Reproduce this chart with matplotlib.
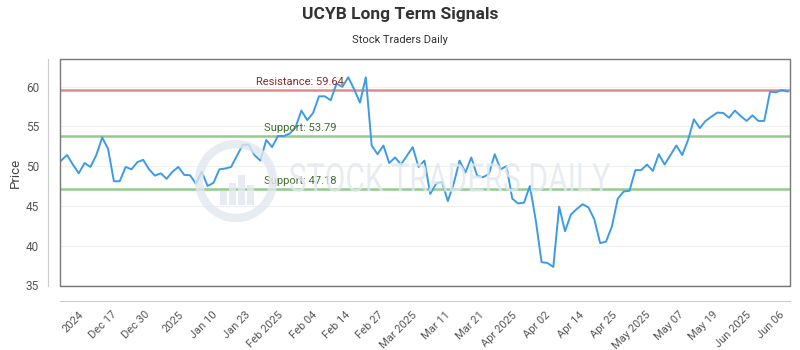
import matplotlib
matplotlib.use("Agg")
import matplotlib.pyplot as plt
import numpy as np
from matplotlib.patches import Ellipse, Rectangle, PathPatch
from matplotlib.textpath import TextPath
from matplotlib.font_manager import FontProperties
from matplotlib.transforms import Affine2D, IdentityTransform

plt.rcParams['font.family'] = ['Roboto', 'DejaVu Sans']

title = "UCYB Long Term Signals"
subtitle = "Stock Traders Daily"
y_label = "Price"
watermark = "STOCK TRADERS DAILY"

prices = [50.7, 51.4, 50.2, 49.1, 50.4, 49.9, 51.4, 53.6, 52.2, 48.1,
          48.1, 49.9, 49.6, 50.5, 50.8, 49.6, 48.8, 49.1, 48.4, 49.3,
          49.9, 48.9, 48.85, 47.8, 49.3, 47.5, 47.9, 49.6, 49.7, 49.9,
          51.3, 52.7, 52.7, 51.4, 50.7, 53.3, 52.4, 53.8, 53.8, 54.1,
          54.9, 57.0, 55.8, 56.7, 58.8, 58.8, 58.3, 60.4, 60.0, 61.2,
          59.7, 58.0, 61.2, 52.6, 51.5, 52.6, 50.4, 51.1, 50.2, 51.3,
          52.4, 49.9, 50.7, 46.5, 47.8, 48.0, 45.6, 47.8, 50.7, 49.2,
          51.1, 48.8, 48.6, 49.0, 51.5, 49.6, 50.0, 45.9, 45.3, 45.4,
          47.5, 43.2, 37.9, 37.8, 37.3, 44.9, 41.8, 43.9, 44.6, 45.2,
          44.8, 43.3, 40.3, 40.5, 42.4, 45.9, 46.8, 46.9, 49.5, 49.5,
          50.2, 49.4, 51.5, 50.2, 51.4, 52.6, 51.4, 53.3, 55.9, 54.8,
          55.7, 56.25, 56.75, 56.7, 56.1, 57.0, 56.3, 55.7, 56.4, 55.7,
          55.7, 59.4, 59.3, 59.6, 59.4]

tick_labels = ["2024", "Dec 17", "Dec 30", "2025", "Jan 10", "Jan 23",
               "Feb 2025", "Feb 04", "Feb 14", "Feb 27", "Mar 2025", "Mar 11",
               "Mar 21", "Apr 2025", "Apr 02", "Apr 14", "Apr 25", "May 2025",
               "May 07", "May 19", "Jun 2025", "Jun 06"]

resistance = 59.64
supports = [53.79, 47.18]
y_ticks = [35, 40, 45, 50, 55, 60]

W, H = 800, 350
fig = plt.figure(figsize=(8, 3.5), dpi=100)
L, R, T, B = 60, 790, 59, 286
ax = fig.add_axes([L / W, 1 - B / H, (R - L) / W, (B - T) / H])

x = np.arange(len(prices))
ax.set_xlim(-0.2, len(prices) - 0.6)
ax.set_ylim(34.9, 63.5)

# watermark (drawn in pixel space of the figure)
wm_color = '#e2e8ef'
cx, cy, r = 236, H - 181, 37
fig.patches.append(Ellipse((cx, cy), 2 * r, 2 * r, transform=IdentityTransform(),
                           fill=False, edgecolor=wm_color, linewidth=6, zorder=0.5, alpha=0.8))
for bx, bh in [(-16, 14), (-7, 22), (2, 30), (11, 20)]:
    fig.patches.append(Rectangle((cx + bx, cy - 24), 7, bh, transform=IdentityTransform(),
                                 facecolor=wm_color, edgecolor='none', zorder=0.5, alpha=0.8))
tp = TextPath((0, 0), watermark, size=40, prop=FontProperties(family='Roboto'))
ext = tp.get_extents()
sx = 320 / ext.width
sy = 29 / ext.height
tr = Affine2D().translate(-ext.x0, -ext.y0).scale(sx, sy).translate(290, H - 192)
fig.patches.append(PathPatch(tp, transform=tr + IdentityTransform(), facecolor=wm_color,
                             edgecolor='none', zorder=0.5, alpha=0.8))
ax.patch.set_alpha(0)

for yv in y_ticks:
    ax.axhline(yv, color='#f0f0f0', linewidth=0.8, zorder=1)

ax.axhline(resistance, color='#e58a8a', linewidth=1.8, zorder=2)
for s in supports:
    ax.axhline(s, color='#94cc8e', linewidth=1.8, zorder=2)

ax.plot(x, prices, color='#3d9be6', linewidth=1.4, zorder=3)

ax.text(0.268, resistance + 0.35, f"Resistance: {resistance:.2f}", transform=ax.get_yaxis_transform(),
        color='#8b2a2a', fontsize=8, ha='left', va='bottom', zorder=4)
for s in supports:
    ax.text(0.279, s + 0.35, f"Support: {s:.2f}", transform=ax.get_yaxis_transform(),
            color='#3f6e2a', fontsize=8, ha='left', va='bottom', zorder=4)

# frame
ax.add_patch(Rectangle((0, 0), 1, 1, transform=ax.transAxes, fill=False,
                       edgecolor='#777777', linewidth=1.0, clip_on=False, zorder=5))

for sp in ['top', 'right']:
    ax.spines[sp].set_visible(False)
ax.spines['left'].set_position(('outward', 9))
ax.spines['bottom'].set_position(('outward', 11))
ax.spines['left'].set_color('#cccccc')
ax.spines['bottom'].set_color('#cccccc')

ax.set_yticks(y_ticks)
ax.tick_params(axis='y', length=0, pad=6, labelsize=8.5, labelcolor='#555555')
tick_pos = np.linspace(2.9, len(prices) - 2.5, len(tick_labels))
ax.set_xticks(tick_pos)
ax.set_xticklabels(tick_labels, rotation=45, ha='right', va='top', rotation_mode='anchor')
ax.tick_params(axis='x', length=0, pad=6, labelsize=8, labelcolor='#555555')

ax.set_ylabel(y_label, fontsize=9.5, color='#444444', labelpad=3)

fig.text(0.5, 1 - 15 / H, title, ha='center', va='center', fontsize=12.5,
         fontweight='bold', color='#333333')
fig.text(0.5, 1 - 40 / H, subtitle, ha='center', va='center', fontsize=8, color='#333333')

fig.savefig("out.png", dpi=100)
